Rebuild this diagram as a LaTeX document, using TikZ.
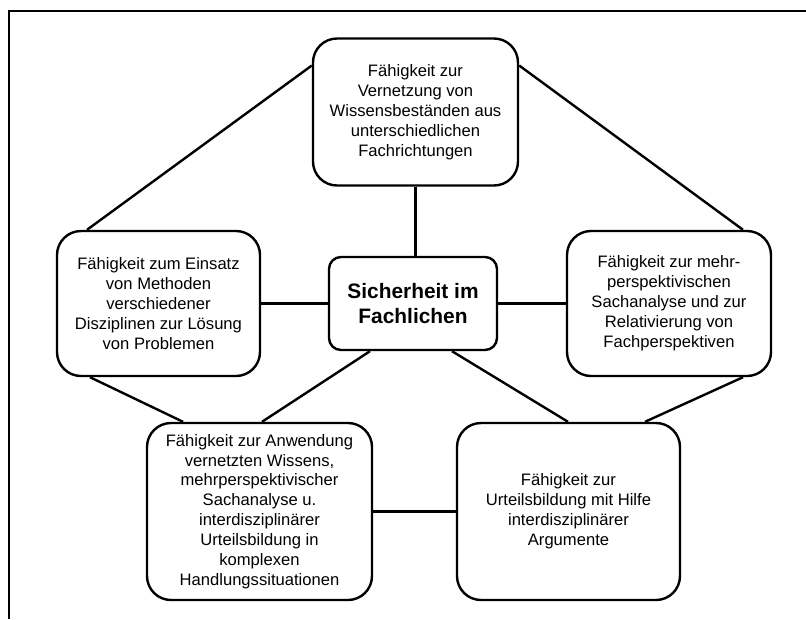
\documentclass[tikz,border=0pt]{standalone}
\usepackage{fontspec}
\setmainfont{Liberation Sans}
\begin{document}
\begin{tikzpicture}[x=1pt,y=-1pt,
  box/.style={draw, line width=2.4pt, rounded corners=24pt, fill=white,
    align=center, inner sep=0pt, font=\fontsize{16.6}{19.9}\selectfont},
  core/.style={draw, line width=2.4pt, rounded corners=12pt, fill=white,
    align=center, inner sep=0pt, font=\bfseries\fontsize{20.9}{25}\selectfont},
  link/.style={line width=2.4pt},
  frame/.style={line width=2pt}]
\useasboundingbox (0,0) rectangle (806,619);

% outer frame (top and left edges only)
\draw[frame] (9,619) -- (9,11) -- (806,11);

% boxes
\node[box, minimum width=205pt, minimum height=147pt] (top) at (415.5,112)
  {\fontsize{16.6}{17.5}\selectfont F\"ahigkeit zur\\Vernetzung von\\Wissensbest\"anden aus\\unterschiedlichen\\Fachrichtungen};
\node[core, minimum width=168pt, minimum height=93pt] (center) at (413,303.5)
  {Sicherheit im\\Fachlichen};
\node[box, minimum width=203pt, minimum height=145pt] (left) at (158.5,303.5)
  {F\"ahigkeit zum Einsatz\\von Methoden\\verschiedener\\Disziplinen zur L\"osung\\von Problemen};
\node[box, minimum width=204pt, minimum height=145pt] (right) at (669,303.5)
  {F\"ahigkeit zur mehr-\\perspektivischen\\Sachanalyse und zur\\Relativierung von\\Fachperspektiven};
\node[box, minimum width=225pt, minimum height=177pt] (bl) at (259.5,511.5)
  {F\"ahigkeit zur Anwendung\\vernetzten Wissens,\\mehrperspektivischer\\Sachanalyse u.\\interdisziplin\"arer\\Urteilsbildung in\\komplexen\\Handlungssituationen};
\node[box, minimum width=223pt, minimum height=177pt] (br) at (568.5,511.5)
  {F\"ahigkeit zur\\Urteilsbildung mit Hilfe\\interdisziplin\"arer\\Argumente};

% connectors
\draw[link] ([yshift=46.5pt]top.west) -- ([xshift=-71.5pt]left.north);
\draw[link] ([yshift=46.5pt]top.east) -- ([xshift=74pt]right.north);
\draw[link] (top.south) -- (top.south |- center.north);
\draw[link] (left.east) -- (center.west);
\draw[link] (center.east) -- (right.west);
\draw[link] ([xshift=-43pt]center.south) -- ([xshift=2.5pt]bl.north);
\draw[link] ([xshift=39pt]center.south) -- ([xshift=-0.5pt]br.north);
\draw[link] ([xshift=-68.5pt]left.south) -- ([xshift=-76.5pt]bl.north);
\draw[link] ([xshift=74pt]right.south) -- ([xshift=76.5pt]br.north);
\draw[link] (bl.east) -- (br.west);
\end{tikzpicture}
\end{document}
